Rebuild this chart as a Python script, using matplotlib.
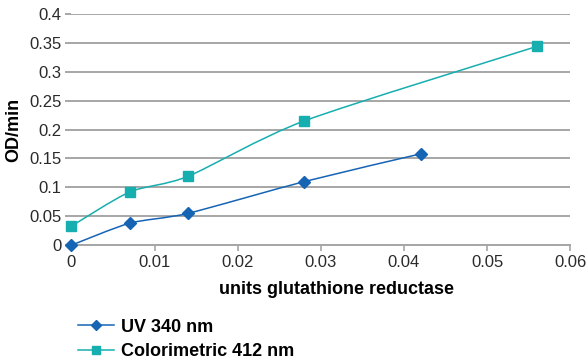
import matplotlib
matplotlib.use("Agg")
import matplotlib.pyplot as plt
from matplotlib.path import Path
from matplotlib.patches import PathPatch
from matplotlib.lines import Line2D

plt.rcParams['font.family'] = ['Liberation Sans', 'DejaVu Sans']

units = [0, 0.007, 0.014, 0.028, 0.042, 0.056]
uv_x = units[:5]
uv_y = [0.0, 0.038, 0.055, 0.110, 0.158]
col_x = [0, 0.007, 0.014, 0.028, 0.056]
col_y = [0.033, 0.092, 0.119, 0.215, 0.344]

xticks = [0, 0.01, 0.02, 0.03, 0.04, 0.05, 0.06]
yticks = [0, 0.05, 0.1, 0.15, 0.2, 0.25, 0.3, 0.35, 0.4]

blue = '#1664b4'
teal = '#17aeb0'
grid = '#a6a6a6'


def smooth_path(xs, ys, t=8):
    # excel-style smoothed line: cubic bezier through the points
    pts = list(zip(xs, ys))
    n = len(pts)
    verts = [pts[0]]
    codes = [Path.MOVETO]
    for i in range(n - 1):
        p0 = pts[i - 1] if i > 0 else pts[i]
        p1 = pts[i]
        p2 = pts[i + 1]
        p3 = pts[i + 2] if i + 2 < n else pts[i + 1]
        c1 = (p1[0] + (p2[0] - p0[0]) / t, p1[1] + (p2[1] - p0[1]) / t)
        c2 = (p2[0] - (p3[0] - p1[0]) / t, p2[1] - (p3[1] - p1[1]) / t)
        verts += [c1, c2, p2]
        codes += [Path.CURVE4] * 3
    return Path(verts, codes)


fig = plt.figure(figsize=(5.86, 3.6), dpi=100)
ax = fig.add_axes([0.122, 0.319, 0.851, 0.642])

for xs, ys, c in [(uv_x, uv_y, blue), (col_x, col_y, teal)]:
    ax.add_patch(PathPatch(smooth_path(xs, ys), fc='none', ec=c, lw=1.1, zorder=3))

ax.plot(uv_x, uv_y, ls='none', marker='D', ms=6.5, color=blue, zorder=4, clip_on=False)
ax.plot(col_x, col_y, ls='none', marker='s', ms=6.5, color=teal, zorder=4, clip_on=False)

ax.set_xlim(0, 0.06)
ax.set_ylim(0, 0.4)
ax.set_xticks(xticks)
ax.set_xticklabels(['0', '0.01', '0.02', '0.03', '0.04', '0.05', '0.06'])
ax.set_yticks(yticks)
ax.set_yticklabels(['0', '0.05', '0.1', '0.15', '0.2', '0.25', '0.3', '0.35', '0.4'])
ax.yaxis.grid(True, color=grid, lw=1.4)
ax.set_axisbelow(True)
for s in ['top', 'right', 'left']:
    ax.spines[s].set_visible(False)
ax.spines['bottom'].set_color(grid)
ax.spines['bottom'].set_linewidth(1.4)
ax.tick_params(axis='x', colors=grid, length=4, width=1.2, labelsize=12, labelcolor='#2a2a2a', pad=3)
ax.tick_params(axis='y', colors=grid, length=4, width=1.4, labelsize=12, labelcolor='#2a2a2a', pad=3)

ax.set_xlabel('units glutathione reductase', fontsize=13, fontweight='bold')
ax.xaxis.set_label_coords(0.531, -0.157)
ax.set_ylabel('OD/min', fontsize=13, fontweight='bold', labelpad=5)

handles = [Line2D([], [], color=blue, lw=1.1, marker='D', ms=5.5),
           Line2D([], [], color=teal, lw=1.1, marker='s', ms=6)]
fig.legend(handles, ['UV 340 nm', 'Colorimetric 412 nm'], loc='upper left',
           bbox_to_anchor=(0.118, 0.14), frameon=False, handlelength=2.0,
           handletextpad=0.35, labelspacing=0.4, borderpad=0,
           prop={'weight': 'bold', 'size': 13})

fig.savefig('out.png', dpi=100)
